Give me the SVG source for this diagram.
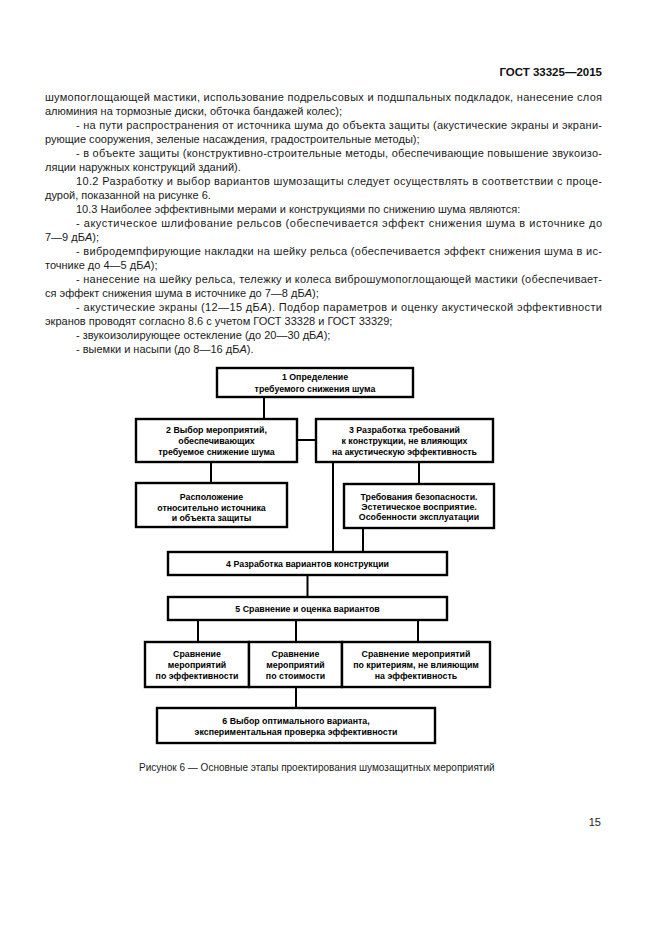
<svg xmlns="http://www.w3.org/2000/svg" width="661" height="935" viewBox="0 0 661 935">
<style>
.bg{fill:#ffffff}
.hdr{font-family:"Liberation Sans",Arial,sans-serif;font-size:11.5px;font-weight:bold;fill:#111}
.t{font-family:"Liberation Sans",Arial,sans-serif;font-size:11px;fill:#1a1a1a}
.it{font-style:italic}
.cap{font-family:"Liberation Sans",Arial,sans-serif;font-size:10px;fill:#1a1a1a}
.pg{font-family:"Liberation Sans",Arial,sans-serif;font-size:11px;fill:#1a1a1a}
.box{fill:#ffffff;stroke:#000;stroke-width:2.4}
.bt{font-family:"Liberation Sans",Arial,sans-serif;font-size:8.8px;font-weight:bold;fill:#000;text-anchor:middle}
.conn line{stroke:#000;stroke-width:2}
</style>
<rect class="bg" x="0" y="0" width="661" height="935"/>

<text class="hdr" x="602" y="76" text-anchor="end">ГОСТ 33325—2015</text>

<g id="body-text">
<text class="t" x="45" y="101" textLength="557" lengthAdjust="spacing">шумопоглощающей мастики, использование подрельсовых и подшпальных подкладок, нанесение слоя</text>
<text class="t" x="45" y="115">алюминия на тормозные диски, обточка бандажей колес);</text>
<text class="t" x="76" y="129" textLength="526" lengthAdjust="spacing">- на пути распространения от источника шума до объекта защиты (акустические экраны и экрани-</text>
<text class="t" x="45" y="143">рующие сооружения, зеленые насаждения, градостроительные методы);</text>
<text class="t" x="76" y="157" textLength="526" lengthAdjust="spacing">- в объекте защиты (конструктивно-строительные методы, обеспечивающие повышение звукоизо-</text>
<text class="t" x="45" y="171">ляции наружных конструкций зданий).</text>
<text class="t" x="76" y="185" textLength="526" lengthAdjust="spacing">10.2  Разработку и выбор вариантов шумозащиты следует осуществлять в соответствии с проце-</text>
<text class="t" x="45" y="199">дурой, показанной на рисунке 6.</text>
<text class="t" x="76" y="213">10.3  Наиболее эффективными мерами и конструкциями по снижению шума являются:</text>
<text class="t" x="76" y="227" textLength="526" lengthAdjust="spacing">- акустическое шлифование рельсов (обеспечивается эффект снижения шума в источнике до</text>
<text class="t" x="45" y="241">7—9 дБ<tspan class="it">А</tspan>);</text>
<text class="t" x="76" y="255" textLength="526" lengthAdjust="spacing">- вибродемпфирующие накладки на шейку рельса (обеспечивается эффект снижения шума в ис-</text>
<text class="t" x="45" y="269">точнике до 4—5 дБ<tspan class="it">А</tspan>);</text>
<text class="t" x="76" y="283" textLength="526" lengthAdjust="spacing">- нанесение на шейку рельса, тележку и колеса виброшумопоглощающей мастики (обеспечивает-</text>
<text class="t" x="45" y="297">ся эффект снижения шума в источнике до 7—8 дБ<tspan class="it">А</tspan>);</text>
<text class="t" x="76" y="311" textLength="526" lengthAdjust="spacing">- акустические экраны (12—15 дБ<tspan class="it">А</tspan>). Подбор параметров и оценку акустической эффективности</text>
<text class="t" x="45" y="325">экранов проводят согласно 8.6 с учетом ГОСТ 33328 и ГОСТ 33329;</text>
<text class="t" x="76" y="339">- звукоизолирующее остекление (до 20—30 дБ<tspan class="it">А</tspan>);</text>
<text class="t" x="76" y="353">- выемки и насыпи (до 8—16 дБ<tspan class="it">А</tspan>).</text>
</g>

<g id="connectors" class="conn">
<line x1="264" y1="397" x2="264" y2="419"/>
<line x1="297" y1="440" x2="316" y2="440"/>
<line x1="211" y1="462" x2="211" y2="483"/>
<line x1="333" y1="462" x2="333" y2="552"/>
<line x1="419" y1="462" x2="419" y2="484"/>
<line x1="363" y1="528" x2="363" y2="552"/>
<line x1="307.5" y1="575" x2="307.5" y2="597"/>
<line x1="198" y1="620" x2="198" y2="642"/>
<line x1="296" y1="620" x2="296" y2="642"/>
<line x1="418" y1="620" x2="418" y2="642"/>
<line x1="296" y1="687" x2="296" y2="708"/>
</g>

<g id="n1">
<rect class="box" x="217" y="368" width="196" height="29"/>
<text class="bt" x="315" y="379.5">1 Определение</text>
<text class="bt" x="315" y="391.5">требуемого снижения шума</text>
</g>

<g id="n2">
<rect class="box" x="136" y="419" width="161" height="43"/>
<text class="bt" x="216.5" y="433">2 Выбор мероприятий,</text>
<text class="bt" x="216.5" y="444">обеспечивающих</text>
<text class="bt" x="216.5" y="455">требуемое снижение шума</text>
</g>

<g id="n3">
<rect class="box" x="316" y="419" width="177" height="43"/>
<text class="bt" x="404.5" y="433">3 Разработка требований</text>
<text class="bt" x="404.5" y="444">к конструкции, не влияющих</text>
<text class="bt" x="404.5" y="455">на акустическую эффективность</text>
</g>

<g id="n2a">
<rect class="box" x="136" y="483" width="151" height="44"/>
<text class="bt" x="211.5" y="500">Расположение</text>
<text class="bt" x="211.5" y="510.5">относительно источника</text>
<text class="bt" x="211.5" y="521">и объекта защиты</text>
</g>

<g id="n3a">
<rect class="box" x="344" y="484" width="150" height="44"/>
<text class="bt" x="419" y="499.5">Требования безопасности.</text>
<text class="bt" x="419" y="509.5">Эстетическое восприятие.</text>
<text class="bt" x="419" y="519.5">Особенности эксплуатации</text>
</g>

<g id="n4">
<rect class="box" x="168" y="552" width="279" height="23"/>
<text class="bt" x="307.5" y="567">4 Разработка вариантов конструкции</text>
</g>

<g id="n5">
<rect class="box" x="168" y="597" width="279" height="23"/>
<text class="bt" x="307.5" y="612">5 Сравнение и оценка вариантов</text>
</g>

<g id="n5a">
<rect class="box" x="145" y="642" width="104" height="45"/>
<text class="bt" x="197" y="656.5">Сравнение</text>
<text class="bt" x="197" y="667.5">мероприятий</text>
<text class="bt" x="197" y="678.5">по эффективности</text>
</g>

<g id="n5b">
<rect class="box" x="249" y="642" width="93" height="45"/>
<text class="bt" x="295.5" y="656.5">Сравнение</text>
<text class="bt" x="295.5" y="667.5">мероприятий</text>
<text class="bt" x="295.5" y="678.5">по стоимости</text>
</g>

<g id="n5c">
<rect class="box" x="342" y="642" width="148" height="45"/>
<text class="bt" x="416" y="656.5">Сравнение мероприятий</text>
<text class="bt" x="416" y="667.5">по критериям, не влияющим</text>
<text class="bt" x="416" y="678.5">на эффективность</text>
</g>

<g id="n6">
<rect class="box" x="157" y="708" width="278" height="35"/>
<text class="bt" x="296" y="723.5">6 Выбор оптимального варианта,</text>
<text class="bt" x="296" y="734.5">экспериментальная проверка эффективности</text>
</g>

<text class="cap" x="139" y="771">Рисунок 6 — Основные этапы проектирования шумозащитных мероприятий</text>
<text class="pg" x="601" y="826" text-anchor="end">15</text>
</svg>
